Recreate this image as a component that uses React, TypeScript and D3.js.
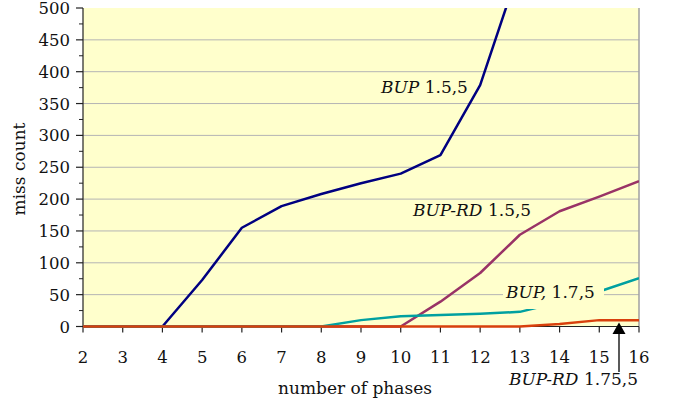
import React from "react";
import * as d3 from "d3";

const phases = [2, 3, 4, 5, 6, 7, 8, 9, 10, 11, 12, 13, 14, 15, 16];
const bup15 = [0, 0, 0, 73, 155, 189, 208, 225, 240, 269, 379, 565, 700, 800, 900];
const bupRd15 = [0, 0, 0, 0, 0, 0, 0, 0, 0, 39, 84, 144, 181, 204, 228];
const bup17 = [0, 0, 0, 0, 0, 0, 0, 10, 16, 18, 20, 23, 38, 55, 76];
const bupRd175 = [0, 0, 0, 0, 0, 0, 0, 0, 0, 0, 0, 0, 4, 10, 10];
const yTicks = [0, 50, 100, 150, 200, 250, 300, 350, 400, 450, 500];
const yMinor = [25, 75, 125, 175, 225, 275, 325, 375, 425, 475];

const W = 673;
const H = 407;
const L = 83;
const R = 639;
const T = 8;
const B = 326.5;
const FONT = "'DejaVu Serif', serif";
const FS = 16.5;
const FL = 17;

export default function App() {
  const x = d3.scaleLinear().domain([2, 16]).range([L, R]);
  const y = d3.scaleLinear().domain([0, 500]).range([B, T]);
  const line = (vals: number[]) =>
    d3.line<number>().x((_, i) => x(phases[i])).y((v) => y(v))(vals) || "";

  return (
    <svg width={W} height={H} style={{ position: "absolute", left: 0, top: 0 }}>
      <defs>
        <clipPath id="plotclip">
          <rect x={L} y={T} width={R - L} height={B - T + 3} />
        </clipPath>
      </defs>
      <rect x={L} y={T} width={R - L} height={B - T} fill="#FFFFCC" />
      {yTicks.slice(1, -1).map((t) => (
        <line key={t} x1={L} x2={R} y1={y(t)} y2={y(t)} stroke="#B4B4B4" strokeWidth={1} />
      ))}
      <line x1={R} x2={R} y1={T} y2={B} stroke="#A0A0A0" strokeWidth={1.5} />
      {/* y axis */}
      <line x1={L} x2={L} y1={T} y2={B} stroke="#222" strokeWidth={1.2} />
      {yTicks.map((t) => (
        <g key={t}>
          <line x1={L - 7} x2={L} y1={y(t)} y2={y(t)} stroke="#222" strokeWidth={1.2} />
          <text x={70} y={y(t) + 6} textAnchor="end" fontFamily={FONT} fontSize={FS} fill="#111">
            {t}
          </text>
        </g>
      ))}
      {yMinor.map((t) => (
        <line key={t} x1={L - 4} x2={L} y1={y(t)} y2={y(t)} stroke="#222" strokeWidth={1} />
      ))}
      {/* x axis */}
      <line x1={L} x2={R} y1={B} y2={B} stroke="#222" strokeWidth={1.2} />
      {phases.map((p) => (
        <g key={p}>
          <line x1={x(p)} x2={x(p)} y1={B} y2={B + 6} stroke="#222" strokeWidth={1.2} />
          <text x={x(p)} y={363} textAnchor="middle" fontFamily={FONT} fontSize={FS} fill="#111">
            {p}
          </text>
        </g>
      ))}
      <g clipPath="url(#plotclip)" fill="none" strokeWidth={2.5} strokeLinejoin="round">
        <path d={line(bup15)} stroke="#000080" />
        <path d={line(bupRd15)} stroke="#993366" />
        <path d={line(bup17)} stroke="#00A0A0" />
      </g>
      {/* label box for BUP, 1.7,5 */}
      <rect x={503} y={280} width={101} height={29} fill="#FFFFCC" />
      <g clipPath="url(#plotclip)" fill="none" strokeWidth={2.5} strokeLinejoin="round">
        <path d={line(bupRd175)} stroke="#D8400C" />
      </g>
      <text x={381} y={93} fontFamily={FONT} fontSize={FL} fill="#111">
        <tspan fontStyle="italic">BUP</tspan>
        <tspan> 1.5,5</tspan>
      </text>
      <text x={413} y={216} fontFamily={FONT} fontSize={FL} fill="#111">
        <tspan fontStyle="italic">BUP-RD</tspan>
        <tspan> 1.5,5</tspan>
      </text>
      <text x={506} y={298} fontFamily={FONT} fontSize={FL} fill="#111">
        <tspan fontStyle="italic">BUP,</tspan>
        <tspan> 1.7,5</tspan>
      </text>
      {/* arrow annotation */}
      <line x1={619} x2={619} y1={332} y2={372} stroke="#000" strokeWidth={1.3} />
      <path d="M619,322.5 L625.5,334 L612.5,334 Z" fill="#000" />
      <text x={638} y={385} textAnchor="end" fontFamily={FONT} fontSize={FL} fill="#111">
        <tspan fontStyle="italic">BUP-RD</tspan>
        <tspan> 1.75,5</tspan>
      </text>
      {/* axis titles */}
      <text x={355} y={394} textAnchor="middle" fontFamily={FONT} fontSize={FL} fill="#111">
        number of phases
      </text>
      <text
        transform={`translate(25,169) rotate(-90)`}
        textAnchor="middle"
        fontFamily={FONT}
        fontSize={FL}
        fill="#111"
      >
        miss count
      </text>
    </svg>
  );
}
